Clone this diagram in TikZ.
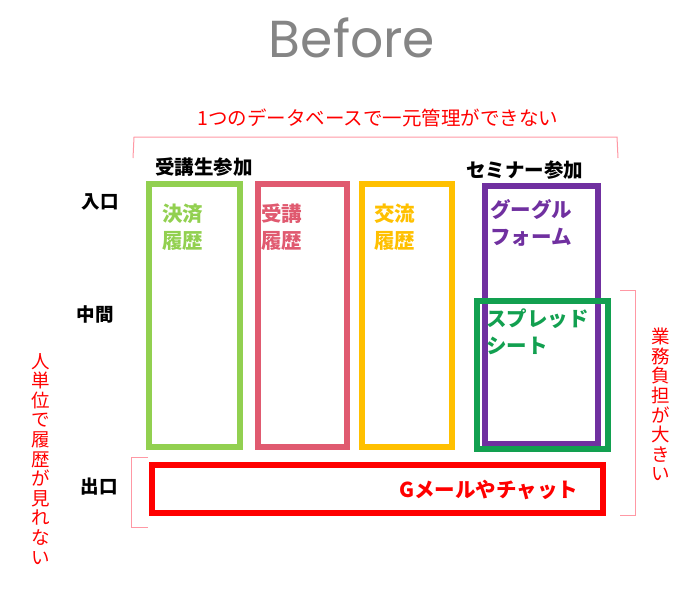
\documentclass[tikz,border=0pt]{standalone}
\usepackage{fontspec}
\newfontfamily\jp{Noto Sans CJK JP}
\newfontfamily\titlefont{Poppins}
\definecolor{cgreen}{HTML}{92D050}
\definecolor{cpink}{HTML}{E05A70}
\definecolor{cyellow}{HTML}{FFC000}
\definecolor{cpurple}{HTML}{7030A0}
\definecolor{cdgreen}{HTML}{12A050}
\definecolor{cred}{HTML}{FF0000}
\definecolor{cbracket}{HTML}{FF98A4}
\definecolor{ctitle}{HTML}{858585}
\begin{document}
\begin{tikzpicture}[x=1pt,y=-1pt,
  colbox/.style={line width=6pt},
  boxlabel/.style={anchor=north west,inner sep=0pt,align=left,font=\jp\bfseries\fontsize{20.5}{27}\selectfont},
  rowlabel/.style={inner sep=0pt,font=\jp\bfseries\fontsize{18.5}{20}\selectfont},
  note/.style={inner sep=0pt,text=cred,font=\jp\fontsize{18.5}{19.6}\selectfont},
  vnote/.style={note,align=center,anchor=north},
  bracket/.style={draw=cbracket,line width=1pt}]
\useasboundingbox (0,0) rectangle (700,600);
% title
\node[inner sep=0pt,text=ctitle,font=\titlefont\fontsize{52}{60}\selectfont] (title) at (352,38) {Before};
% top note and bracket
\node[note,font=\jp\fontsize{19.5}{22}\selectfont] (topnote) at (378,118) {1つのデータベースで一元管理ができない};
\coordinate (tb1) at (133,158);
\coordinate (tb2) at (618,158);
\draw[bracket] (tb1) -- (134,137) -- (617,137) -- (tb2);
% column headers
\node[rowlabel,anchor=west,font=\jp\bfseries\fontsize{19.5}{22}\selectfont] (h1) at (155,167) {受講生参加};
\node[rowlabel,anchor=west,font=\jp\bfseries\fontsize{19.5}{22}\selectfont] (h2) at (466,170) {セミナー参加};
% row labels
\node[rowlabel] (in) at (100,202) {入口};
\node[rowlabel] (mid) at (95,314) {中間};
\node[rowlabel] (out) at (99,487) {出口};
% boxes
\draw[colbox,draw=cgreen] (149,184) rectangle (240,447);
\node[boxlabel,text=cgreen] (l1) at (162,204) {決済\\履歴};
\draw[colbox,draw=cpink] (258,184) rectangle (347,447);
\node[boxlabel,text=cpink] (l2) at (261,204) {受講\\履歴};
\draw[colbox,draw=cyellow] (362,184) rectangle (452,447);
\node[boxlabel,text=cyellow] (l3) at (374,204) {交流\\履歴};
\draw[colbox,draw=cpurple] (485,186) rectangle (598,444);
\node[boxlabel,text=cpurple] (l4) at (490,199) {グーグル\\フォーム};
\draw[colbox,draw=cdgreen] (477,301) rectangle (608,449);
\node[boxlabel,text=cdgreen] (l5) at (486,309) {スプレッド\\シート};
\draw[colbox,draw=cred] (152,465) rectangle (603,513);
\node[inner sep=0pt,text=cred,font=\jp\bfseries\fontsize{20.5}{22}\selectfont,anchor=west] (gm) at (399,490) {Gメールやチャット};
% left bracket and note
\coordinate (lb1) at (148,457);
\coordinate (lb2) at (148,527);
\draw[bracket] (lb1) -- (131,457) -- (131,527) -- (lb2);
\node[vnote] (lnote) at (41,353) {人\\単\\位\\で\\履\\歴\\が\\見\\れ\\な\\い};
% right bracket and note
\coordinate (rb1) at (620,290);
\coordinate (rb2) at (620,515);
\draw[bracket] (rb1) -- (635,290) -- (635,515) -- (rb2);
\node[vnote] (rnote) at (661,328) {業\\務\\負\\担\\が\\大\\き\\い};
\end{tikzpicture}
\end{document}
